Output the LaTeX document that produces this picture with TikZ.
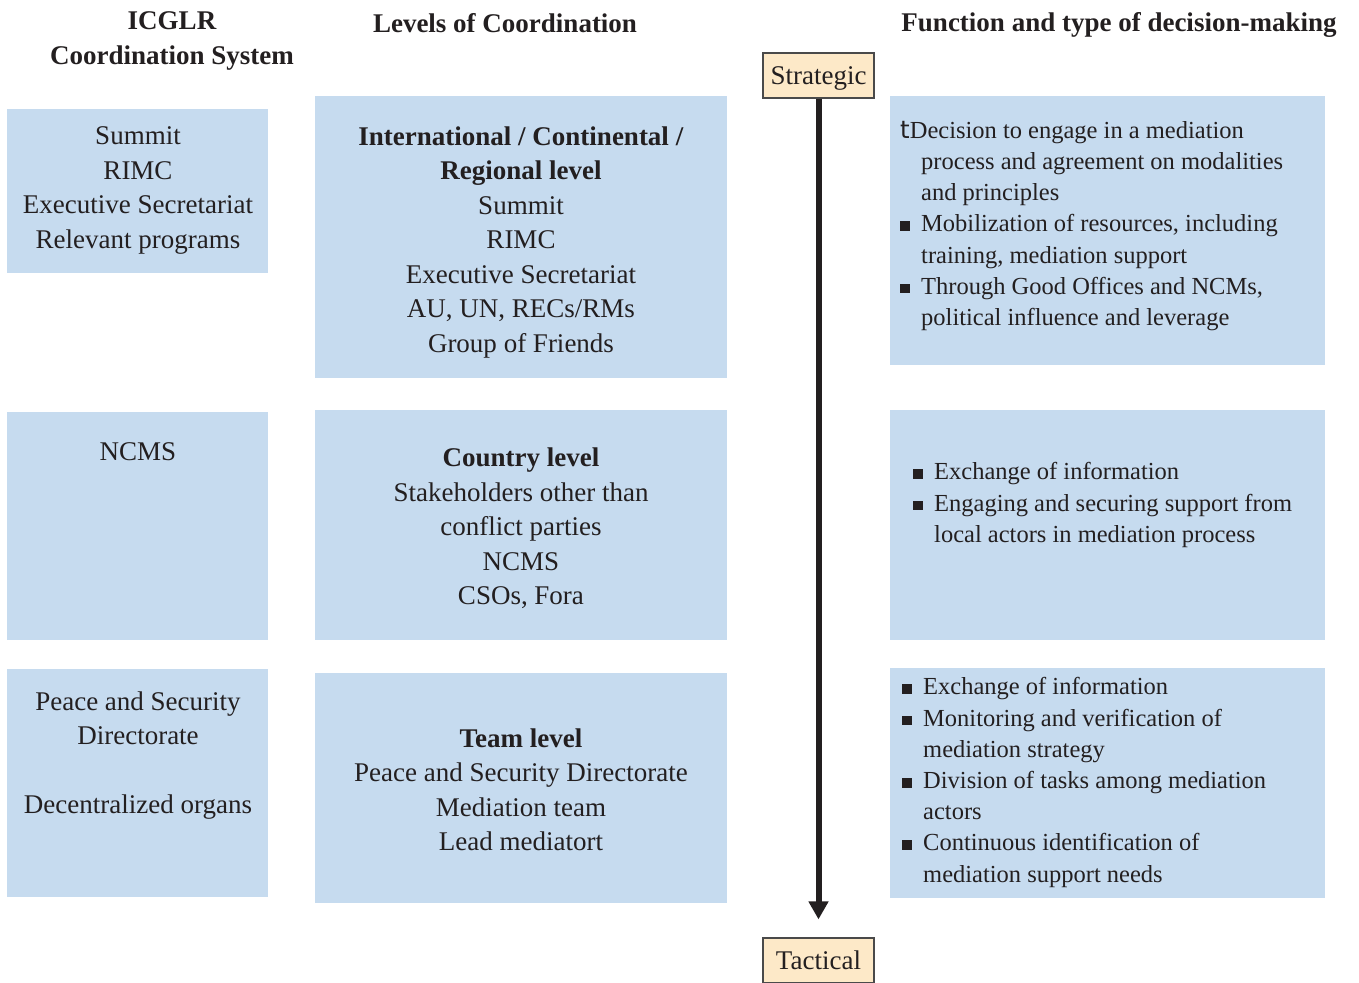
\documentclass[tikz,border=0pt]{standalone}
\usepackage{fontspec}
\setmainfont{Liberation Serif}
\newfontfamily\dejavu{DejaVu Sans}
\usetikzlibrary{arrows.meta}
\definecolor{boxblue}{HTML}{C6DBEF}
\definecolor{peach}{HTML}{FDE9C8}
\definecolor{edgegray}{HTML}{4A4A4A}
\definecolor{ink}{HTML}{231F20}
\newcommand{\sqb}{\makebox[21pt][l]{\rule[1pt]{9.5pt}{9.5pt}}}
\newcommand{\ind}{\hspace*{21pt}}
\begin{document}
\begin{tikzpicture}[x=1pt,y=-1pt,
  panel/.style={fill=boxblue, draw=none, inner sep=0pt, anchor=north west},
  body/.style={font=\fontsize{27}{34.5}\selectfont, align=center, text=ink, inner sep=0pt},
  hdr/.style={font=\fontsize{27}{35}\selectfont\bfseries, align=center, text=ink, inner sep=0pt},
  items/.style={font=\fontsize{24.5}{31.2}\selectfont, align=left, text=ink, inner sep=0pt, anchor=west},
  tag/.style={draw=edgegray, fill=peach, line width=1.2pt, minimum width=111pt, minimum height=45pt, inner sep=0pt, text depth=0pt, font=\fontsize{27}{30}\selectfont, text=ink}
]
\useasboundingbox (0,0) rectangle (1359,982);

% headers
\node[hdr] (h1) at (172,40.5) {ICGLR\\Coordination System};
\node[hdr] (h2) at (505,23) {Levels of Coordination};
\node[hdr] (h3) at (1119,25) {Function and type of decision-making};

% panels
\node[panel, minimum width=261pt, minimum height=164pt] (l1) at (7,109) {};
\node[panel, minimum width=261pt, minimum height=228pt] (l2) at (7,412) {};
\node[panel, minimum width=261pt, minimum height=228pt] (l3) at (7,669) {};
\node[panel, minimum width=412pt, minimum height=282pt] (m1) at (315,96) {};
\node[panel, minimum width=412pt, minimum height=230pt] (m2) at (315,410) {};
\node[panel, minimum width=412pt, minimum height=230pt] (m3) at (315,673) {};
\node[panel, minimum width=435pt, minimum height=269pt] (r1) at (890,96) {};
\node[panel, minimum width=435pt, minimum height=230pt] (r2) at (890,410) {};
\node[panel, minimum width=435pt, minimum height=230pt] (r3) at (890,668) {};

% left texts
\node[body] (lt1) at (138,190.5) {Summit\\RIMC\\Executive Secretariat\\Relevant programs};
\node[body] (lt2) at (138,452) {NCMS};
\node[body] (lt3) at (138,755.5) {Peace and Security\\Directorate\\[34.5pt]Decentralized organs};

% middle texts
\node[body] (mt1) at (521,242.5) {\textbf{International / Continental /}\\\textbf{Regional level}\\Summit\\RIMC\\Executive Secretariat\\AU, UN, RECs/RMs\\Group of Friends};
\node[body] (mt2) at (521,528.5) {\textbf{Country level}\\Stakeholders other than\\conflict parties\\NCMS\\CSOs, Fora};
\node[body] (mt3) at (521,790) {\textbf{Team level}\\Peace and Security Directorate\\Mediation team\\Lead mediatort};

% right texts
\node[items] (rt1) at (900,226) {{\dejavu t}Decision to engage in a mediation\\
\ind process and agreement on modalities\\
\ind and principles\\
\sqb Mobilization of resources, including\\
\ind training, mediation support\\
\sqb Through Good Offices and NCMs,\\
\ind political influence and leverage};
\node[items] (rt2) at (913,505) {\sqb Exchange of information\\
\sqb Engaging and securing support from\\
\ind local actors in mediation process};
\node[items] (rt3) at (902,782.5) {\sqb Exchange of information\\
\sqb Monitoring and verification of\\
\ind mediation strategy\\
\sqb Division of tasks among mediation\\
\ind actors\\
\sqb Continuous identification of\\
\ind mediation support needs};

% scale tags and arrow
\node[tag] (strat) at (818.5,75.5) {Strategic};
\node[tag] (tac) at (818.5,960.5) {Tactical};
\draw[line width=6pt, draw=ink, -{Triangle[length=18pt,width=19pt]}, shorten >=18pt] (strat.south) -- (tac.north);
\end{tikzpicture}
\end{document}
